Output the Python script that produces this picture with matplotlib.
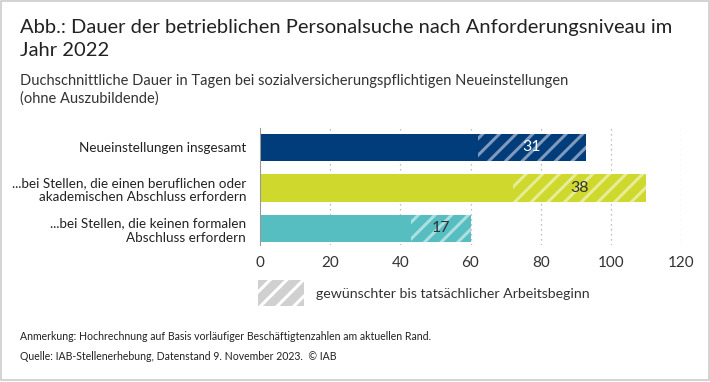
import matplotlib
matplotlib.use("Agg")
import matplotlib.pyplot as plt
from matplotlib.patches import Rectangle

categories = [
    "Neueinstellungen insgesamt",
    "...bei Stellen, die einen beruflichen oder\nakademischen Abschluss erfordern",
    "...bei Stellen, die keinen formalen\nAbschluss erfordern",
]
solid_days = [62, 72, 43]
hatched_days = [31, 38, 17]
bar_colors = ["#003d7a", "#cfd82d", "#56bec1"]
hatch_colors = ["#8099bd", "#e7ec96", "#abdfe0"]
label_colors = ["white", "#333333", "#333333"]
xticks = [0, 20, 40, 60, 80, 100, 120]

plt.rcParams.update({
    "font.family": ["Lato", "DejaVu Sans"],
    "hatch.linewidth": 2.2,
})

fig = plt.figure(figsize=(7.1, 3.82), dpi=100)
ax = fig.add_axes([260 / 710, 1 - 245 / 382, (681 - 260) / 710, (245 - 128) / 382])

y = list(range(len(categories)))
ax.barh(y, solid_days, height=0.68, color=bar_colors, lw=0)
for i in y:
    ax.barh(i, hatched_days[i], left=solid_days[i], height=0.68,
            facecolor=bar_colors[i], edgecolor=hatch_colors[i], lw=0, hatch="//")
    ax.text(solid_days[i] + hatched_days[i] / 2, i, str(hatched_days[i]),
            ha="center", va="center", fontsize=11.5, color=label_colors[i])

ax.set_xlim(0, 120)
ax.set_ylim(2.41, -0.48)
ax.set_xticks(xticks)
ax.set_yticks(y)
ax.set_yticklabels(categories, fontsize=9.7, color="#222222", linespacing=1.25)
ax.tick_params(axis="x", length=0, labelsize=11, labelcolor="#333333", pad=8)
ax.tick_params(axis="y", length=0, pad=10)
for s in ["top", "right", "bottom"]:
    ax.spines[s].set_visible(False)
ax.spines["left"].set_color("#999999")
for t in xticks[1:]:
    ax.axvline(t, color="#aaaaaa", lw=0.9, ls=(0, (1, 3)), zorder=0)

# legend
leg = Rectangle((258 / 710, 1 - 306 / 382), 46 / 710, 26 / 382, transform=fig.transFigure,
                facecolor="#d0d0d0", edgecolor="white", lw=0, hatch="//")
fig.patches.append(leg)
fig.text(316 / 710, 1 - 294 / 382, "gewünschter bis tatsächlicher Arbeitsbeginn",
         fontsize=10.2, color="#333333", va="center")

# titles
fig.text(20 / 710, 1 - 39 / 382,
         "Abb.: Dauer der betrieblichen Personalsuche nach Anforderungsniveau im\nJahr 2022",
         fontsize=14.5, color="#222222", va="center", linespacing=1.45)
fig.text(20 / 710, 1 - 90 / 382,
         "Duchschnittliche Dauer in Tagen bei sozialversicherungspflichtigen Neueinstellungen\n(ohne Auszubildende)",
         fontsize=10.5, color="#333333", va="center", linespacing=1.3)

fig.text(20 / 710, 1 - 337 / 382,
         "Anmerkung: Hochrechnung auf Basis vorläufiger Beschäftigtenzahlen am aktuellen Rand.",
         fontsize=7.6, color="#222222", va="center")
fig.text(20 / 710, 1 - 357 / 382,
         "Quelle: IAB-Stellenerhebung, Datenstand 9. November 2023.  © IAB",
         fontsize=7.6, color="#222222", va="center")

border = Rectangle((0.002, 0.004), 0.996, 0.994, transform=fig.transFigure,
                   fill=False, edgecolor="#cccccc", lw=1.2)
fig.patches.append(border)

fig.savefig("out.png", dpi=100)
